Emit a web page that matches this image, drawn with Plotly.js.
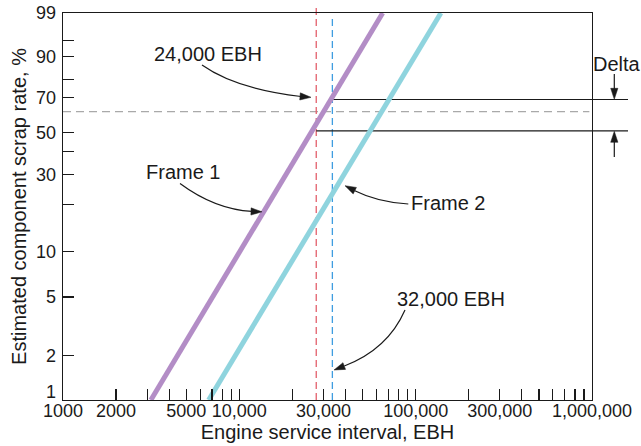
<!DOCTYPE html>
<html><head><meta charset="utf-8">
<script src="https://cdn.plot.ly/plotly-3.0.1.min.js"></script>
<style>html,body{margin:0;padding:0;background:#fff}</style>
</head><body><div id="chart" style="width:641px;height:446px"></div>
<script>
// ---- data ----
const seriesNames = ['Frame 1', 'Frame 2'];
const frame1EBH = [3150, 65000];
const frame1Pct = [1, 99];
const frame2EBH = [6700, 139000];
const frame2Pct = [1, 99];
const intervalEBH = [27300, 33700];          // dashed verticals (labelled 24,000 / 32,000 EBH)
const intervalLabels = ['24,000 EBH', '32,000 EBH'];
const deltaPct = [69, 51];                   // Frame 1 scrap rate at the two intervals
const charPct = 62;                          // grey dashed reference level
const yTickPct = [2, 5, 10, 20, 30, 40, 50, 70, 80, 90, 95, 99];
const yTickText = ['2', '5', '10', '', '30', '', '50', '70', '', '90', '', '99'];
const xTickVals = [1000,2000,3000,4000,5000,6000,7000,8000,9000,
  10000,20000,30000,40000,50000,60000,70000,80000,90000,
  100000,200000,300000,400000,500000,600000,700000,800000,900000,1000000];
const xTickText = ['1000','2000','','','5000','','','','',
  '10,000','','30,000','','','','','','',
  '100,000','','300,000','','','','','','','1,000,000'];

// Weibull probability scale
const wb = p => Math.log(-Math.log(1 - p / 100));

// ---- layout geometry ----
const W = 641, H = 446;
const M = {l: 63, r: 49, t: 13, b: 46};
const PL = M.l, PR = W - M.r, PT = M.t, PB = H - M.b;
const fx = x => (x - PL) / (PR - PL);
const fy = y => (PB - y) / (PB - PT);
const xLogMin = 3, xLogMax = 6;
const xPaper = v => (Math.log10(v) - xLogMin) / (xLogMax - xLogMin);

const FONT = 'Liberation Sans, Arial, Helvetica, sans-serif';
const INK = '#1a1a1a';

function pt(x, y) { return fx(x).toFixed(5) + ',' + fy(y).toFixed(5); }
function curve(p0, c, p1) {
  return {type: 'path', xref: 'paper', yref: 'paper',
    path: 'M' + pt(p0[0], p0[1]) + ' Q' + pt(c[0], c[1]) + ' ' + pt(p1[0], p1[1]),
    line: {color: INK, width: 1.2}};
}
function head(tip, dir, L = 11, h = 3.6) {
  const n = Math.hypot(dir[0], dir[1]);
  const d = [dir[0] / n, dir[1] / n];
  const b = [tip[0] - L * d[0], tip[1] - L * d[1]];
  const c1 = [b[0] - h * d[1], b[1] + h * d[0]];
  const c2 = [b[0] + h * d[1], b[1] - h * d[0]];
  return {type: 'path', xref: 'paper', yref: 'paper',
    path: 'M' + pt(tip[0], tip[1]) + ' L' + pt(c1[0], c1[1]) + ' L' + pt(c2[0], c2[1]) + ' Z',
    fillcolor: INK, line: {color: INK, width: 0.5}};
}
function seg(a, b) {
  return {type: 'line', xref: 'paper', yref: 'paper',
    x0: fx(a[0]), y0: fy(a[1]), x1: fx(b[0]), y1: fy(b[1]),
    line: {color: INK, width: 1.2}};
}

const traces = [
  {x: frame1EBH, y: frame1Pct.map(wb), name: seriesNames[0], mode: 'lines',
   line: {color: '#b38dc6', width: 5}, hoverinfo: 'skip'},
  {x: frame2EBH, y: frame2Pct.map(wb), name: seriesNames[1], mode: 'lines',
   line: {color: '#8fd4de', width: 5}, hoverinfo: 'skip'}
];

const shapes = [
  {type: 'line', xref: 'paper', yref: 'y', x0: 0, x1: 0.995, y0: wb(charPct), y1: wb(charPct),
   line: {color: '#a9a9a9', width: 1.3, dash: '8px,5px'}, layer: 'below'},
  {type: 'line', xref: 'x', yref: 'paper', x0: intervalEBH[0], x1: intervalEBH[0], y0: 0, y1: 1.014,
   line: {color: '#e35f6b', width: 1.3, dash: '7px,4px'}, layer: 'below'},
  {type: 'line', xref: 'x', yref: 'paper', x0: intervalEBH[1], x1: intervalEBH[1], y0: 0, y1: 0.995,
   line: {color: '#3f9de0', width: 1.3, dash: '7px,4px'}, layer: 'below'},
  {type: 'line', xref: 'paper', yref: 'y', x0: xPaper(intervalEBH[1]), x1: fx(628),
   y0: wb(deltaPct[0]), y1: wb(deltaPct[0]), line: {color: INK, width: 1.2}, layer: 'below'},
  {type: 'line', xref: 'paper', yref: 'y', x0: xPaper(intervalEBH[0]), x1: fx(628),
   y0: wb(deltaPct[1]), y1: wb(deltaPct[1]), line: {color: INK, width: 1.2}, layer: 'below'},
  curve([202, 65], [236, 89], [301, 96.5]), head([311, 97.3], [1, 0.08]),
  curve([180, 183.5], [215, 209.4], [252, 211.4]), head([262, 211.8], [1, 0.03]),
  curve([408.3, 204], [377.5, 202.1], [354.8, 190.7]), head([345, 185.7], [-0.892, -0.451]),
  curve([405, 310], [387.8, 349.3], [344.3, 366]), head([334, 370], [-0.93, 0.36]),
  seg([614.3, 74], [614.3, 89]), head([614.3, 99.3], [0, 1]),
  seg([614.3, 157], [614.3, 141]), head([614.3, 131.3], [0, -1])
];

const ann = (text, x, y) => ({text, xref: 'paper', yref: 'paper', x: fx(x), y: fy(y),
  xanchor: 'center', yanchor: 'middle', showarrow: false, font: {family: FONT, size: 20, color: INK}});
const annotations = [
  ann(intervalLabels[0], 208, 54),
  ann(seriesNames[0], 182.5, 172),
  ann(seriesNames[1], 448, 203),
  ann(intervalLabels[1], 451, 299),
  ann('Delta', 617, 64),
  {text: '1', xref: 'paper', yref: 'y', x: 0, y: wb(1), xanchor: 'right', yanchor: 'middle',
   xshift: -5, yshift: 8, showarrow: false, font: {family: FONT, size: 18, color: INK}}
];

const axisCommon = {
  showline: true, mirror: true, linecolor: INK, linewidth: 1.3, showgrid: false, zeroline: false,
  ticks: 'inside', ticklen: 11, tickwidth: 1.2, tickcolor: INK,
  tickfont: {family: FONT, size: 18, color: INK}
};

const layout = {
  width: W, height: H, margin: M,
  paper_bgcolor: '#fff', plot_bgcolor: 'rgba(0,0,0,0)', showlegend: false,
  font: {family: FONT, color: INK},
  xaxis: Object.assign({}, axisCommon, {
    type: 'log', range: [xLogMin, xLogMax], tickmode: 'array',
    tickvals: xTickVals, ticktext: xTickText, ticklabelstandoff: -6,
    title: {text: 'Engine service interval, EBH', font: {family: FONT, size: 20, color: INK}, standoff: 4}
  }),
  yaxis: Object.assign({}, axisCommon, {
    range: [wb(1), wb(99)], tickmode: 'array',
    tickvals: yTickPct.map(wb), ticktext: yTickText, ticklabelstandoff: 2,
    title: {text: 'Estimated component scrap rate, %', font: {family: FONT, size: 20, color: INK}, standoff: 4}
  }),
  shapes, annotations
};

Plotly.newPlot('chart', traces, layout, {displayModeBar: false, staticPlot: true});
</script></body></html>
